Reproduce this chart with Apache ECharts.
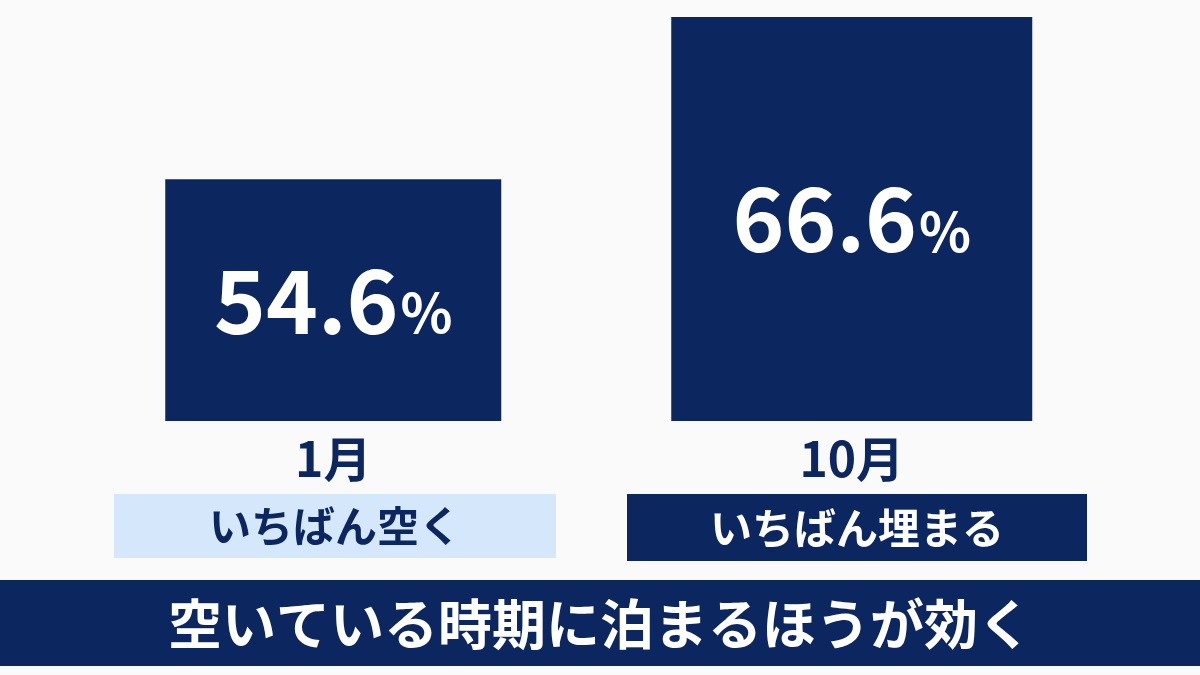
<!DOCTYPE html>
<html><head><meta charset="utf-8">
<script src="https://cdn.jsdelivr.net/npm/echarts@6/dist/echarts.min.js"></script>
<style>html,body{margin:0;background:#fafafa}#c{width:1200px;height:675px}</style>
</head><body><div id="c"></div>
<script>
const months = ['1月', '10月'];
const rates = [54.6, 66.6];
const notes = ['いちばん空く', 'いちばん埋まる'];
const headline = '空いている時期に泊まるほうが効く';

const navy = '#0c2660';
const font = '"Noto Sans CJK JP", sans-serif';
const chart = echarts.init(document.getElementById('c'));

const label = {
  show: true, position: 'inside',
  formatter: p => '{n|' + p.value + '}{p|%}',
  rich: {
    n: { color: '#fff', fontSize: 88, fontWeight: 'bold', fontFamily: font },
    p: { color: '#fff', fontSize: 54, fontWeight: 'bold', fontFamily: font, padding: [24, 0, 0, 2] }
  }
};
const grid = { left: 74, right: 89, top: 17, bottom: 254 };
const xAxis = (i, show) => ({
  type: 'category', data: months, gridIndex: i,
  axisLine: { show: false }, axisTick: { show: false },
  axisLabel: { show: show, margin: 14, color: navy, fontSize: 48, fontWeight: 'bold', fontFamily: font }
});
const yAxis = i => ({ type: 'value', gridIndex: i, min: 36.7, max: 66.6, show: false, splitLine: { show: false } });

chart.setOption({
  backgroundColor: '#fafafa',
  grid: [grid, grid],
  xAxis: [xAxis(0, true), xAxis(1, false)],
  yAxis: [yAxis(0), yAxis(1)],
  series: [
    { type: 'bar', xAxisIndex: 0, yAxisIndex: 0, data: [rates[0], '-'], barWidth: 336, itemStyle: { color: navy }, label: label, silent: true },
    { type: 'bar', xAxisIndex: 1, yAxisIndex: 1, data: ['-', rates[1]], barWidth: 361, itemStyle: { color: navy }, label: label, silent: true }
  ],
  graphic: [
    { type: 'rect', shape: { x: 114, y: 494, width: 442, height: 64 }, style: { fill: '#d5e8fb' } },
    { type: 'text', x: 335, y: 526, style: { text: notes[0], fill: navy, fontSize: 42, fontWeight: 'bold', fontFamily: font, align: 'center', verticalAlign: 'middle' } },
    { type: 'rect', shape: { x: 627, y: 494, width: 460, height: 67 }, style: { fill: navy } },
    { type: 'text', x: 857, y: 528, style: { text: notes[1], fill: '#fff', fontSize: 42, fontWeight: 'bold', fontFamily: font, align: 'center', verticalAlign: 'middle' } },
    { type: 'rect', shape: { x: 0, y: 580, width: 1200, height: 86 }, style: { fill: navy } },
    { type: 'text', x: 600, y: 624, style: { text: headline, fill: '#fff', fontSize: 54, fontWeight: 'bold', fontFamily: font, align: 'center', verticalAlign: 'middle' } }
  ]
});
</script></body></html>
